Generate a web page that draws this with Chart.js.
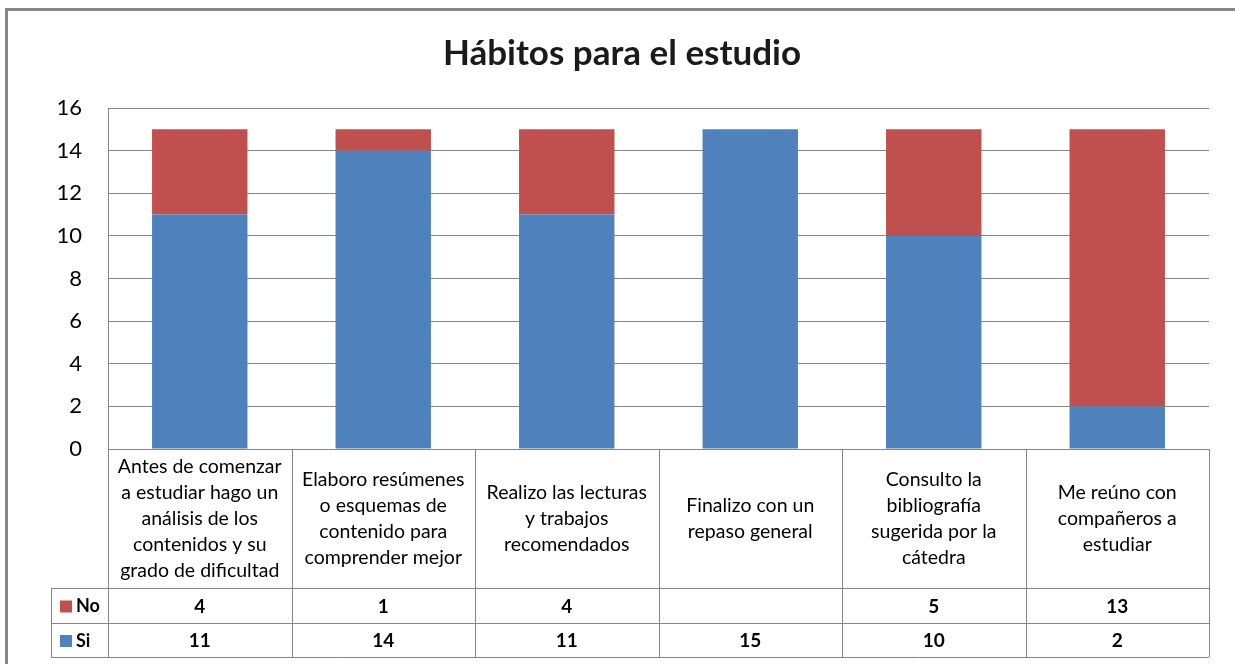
<!DOCTYPE html>
<html>
<head>
<meta charset="utf-8">
<script src="https://cdn.jsdelivr.net/npm/chart.js@4.4.1/dist/chart.umd.min.js"></script>
<style>
  html, body { margin: 0; padding: 0; background: #fff; }
  #wrap { width: 1235px; height: 664px; }
</style>
</head>
<body>
<div id="wrap"><canvas id="chart" width="1235" height="664"></canvas></div>
<script>
// data
const categories = [
    ['Antes de comenzar', 'a estudiar hago un', 'análisis de los', 'contenidos y su', 'grado de dificultad'],
    ['Elaboro resúmenes', 'o esquemas de', 'contenido para', 'comprender mejor'],
    ['Realizo las lecturas', 'y trabajos', 'recomendados'],
    ['Finalizo con un', 'repaso general'],
    ['Consulto la', 'bibliografía', 'sugerida por la', 'cátedra'],
    ['Me reúno con', 'compañeros a', 'estudiar']
];
const noValues = [4, 1, 4, null, 5, 13];
const siValues = [11, 14, 11, 15, 10, 2];
const yTicks = [0, 2, 4, 6, 8, 10, 12, 14, 16];

const RED = '#C0504D';
const BLUE = '#4F81BD';
const LINE = '#868686';
const FONT = 'Lato, "Open Sans", sans-serif';

// draws the outer frame and the data table under the bars
const tablePlugin = {
    id: 'dataTable',
    afterDraw(chart) {
        const ctx = chart.ctx;
        const area = chart.chartArea;
        const xs = chart.scales.x;
        const colW = (area.right - area.left) / categories.length;
        const rowCat = area.bottom + 139;
        const rowNo = rowCat + 35;
        const rowSi = rowNo + 34;
        const keyLeft = 51;

        ctx.save();
        // outer frame
        ctx.strokeStyle = '#878787';
        ctx.lineWidth = 3;
        ctx.strokeRect(6.5, 9.5, 1240, 700);

        // table grid
        ctx.strokeStyle = LINE;
        ctx.lineWidth = 1;
        ctx.beginPath();
        [rowCat, rowNo, rowSi].forEach(y => {
            ctx.moveTo(keyLeft, y + 0.5);
            ctx.lineTo(area.right, y + 0.5);
        });
        ctx.moveTo(keyLeft + 0.5, rowCat);
        ctx.lineTo(keyLeft + 0.5, rowSi);
        for (let i = 0; i <= categories.length; i++) {
            const x = Math.round(area.left + i * colW) + 0.5;
            ctx.moveTo(x, area.bottom);
            ctx.lineTo(x, rowSi);
        }
        ctx.stroke();

        // category labels
        ctx.fillStyle = '#000';
        ctx.textAlign = 'center';
        ctx.textBaseline = 'middle';
        ctx.font = '19.5px ' + FONT;
        const lh = 26;
        categories.forEach((lines, i) => {
            const cx = xs.getPixelForValue(i);
            const cy = (area.bottom + rowCat) / 2;
            const top = cy - (lines.length - 1) * lh / 2;
            lines.forEach((t, j) => ctx.fillText(t, cx, top + j * lh));
        });

        // value rows
        const rows = [
            { label: 'No', color: RED, values: noValues, top: rowCat, bottom: rowNo },
            { label: 'Si', color: BLUE, values: siValues, top: rowNo, bottom: rowSi }
        ];
        rows.forEach(r => {
            const cy = (r.top + r.bottom) / 2 + 1;
            ctx.font = 'bold 19px ' + FONT;
            ctx.textAlign = 'center';
            ctx.fillStyle = '#000';
            r.values.forEach((v, i) => {
                if (v !== null) ctx.fillText(String(v), xs.getPixelForValue(i), cy);
            });
            ctx.fillStyle = r.color;
            ctx.fillRect(keyLeft + 9, cy - 6, 12, 12);
            ctx.fillStyle = '#000';
            ctx.textAlign = 'left';
            ctx.font = 'bold 18px ' + FONT;
            ctx.fillText(r.label, keyLeft + 25, cy);
        });
        ctx.restore();
    }
};

new Chart(document.getElementById('chart'), {
    type: 'bar',
    data: {
        labels: categories.map(c => c.join(' ')),
        datasets: [
            { label: 'Si', data: siValues, backgroundColor: BLUE },
            { label: 'No', data: noValues, backgroundColor: RED }
        ]
    },
    options: {
        responsive: false,
        animation: false,
        layout: { padding: { top: 10, right: 26, bottom: 215, left: 35 } },
        datasets: { bar: { categoryPercentage: 1, barPercentage: 0.52 } },
        plugins: {
            legend: { display: false },
            tooltip: { enabled: false },
            title: {
                display: true,
                text: 'Hábitos para el estudio',
                color: '#1a1a1a',
                font: { family: FONT, size: 35, weight: 'bold', lineHeight: 1.2 },
                padding: { top: 23, bottom: 33 }
            }
        },
        scales: {
            x: { stacked: true, display: false },
            y: {
                stacked: true,
                min: 0,
                max: 16,
                afterFit(scale) { scale.width = 73; },
                afterBuildTicks(scale) { scale.ticks = yTicks.map(v => ({ value: v })); },
                ticks: { padding: 26, color: '#000', font: { family: FONT, size: 22 } },
                grid: { color: LINE, drawTicks: false },
                border: { color: LINE }
            }
        }
    },
    plugins: [tablePlugin]
});
</script>
</body>
</html>
